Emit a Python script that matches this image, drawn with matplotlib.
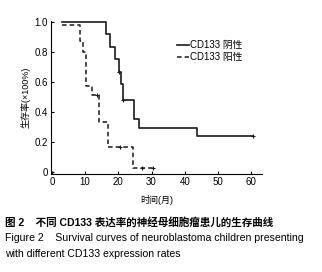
import matplotlib
matplotlib.use("Agg")
import matplotlib.pyplot as plt

plt.rcParams['font.family'] = ['Liberation Sans', 'Noto Sans CJK SC']

# survival steps
neg_time = [3, 16.3, 17.6, 19.1, 20.3, 20.7, 21.3, 24.6, 26.1, 43.8, 60.7]
neg_surv = [1.0, 0.917, 0.833, 0.75, 0.667, 0.583, 0.48, 0.355, 0.295, 0.24, 0.24]
neg_cens_t = [20.3, 21.5, 60.7]
neg_cens_s = [0.667, 0.48, 0.24]

pos_time = [3, 8.5, 9.3, 10.3, 12.0, 14.3, 17.0, 24.3, 30.5]
pos_surv = [0.975, 0.87, 0.80, 0.57, 0.51, 0.335, 0.165, 0.025, 0.025]
pos_cens_t = [13.6, 20.6, 27.0, 30.3]
pos_cens_s = [0.51, 0.165, 0.025, 0.025]

x_ticks = [0, 10, 20, 30, 40, 50, 60]
y_ticks = [0, 0.2, 0.4, 0.6, 0.8, 1.0]
y_ticklabels = ['0', '0.2', '0.4', '0.6', '0.8', '1.0']

fig = plt.figure(figsize=(3.22, 2.72), dpi=100)
ax = fig.add_axes([0.158, 0.36, 0.656, 0.564])

ax.step(neg_time, neg_surv, where='post', color='#1a1a1a', lw=1.2, label='CD133 阴性')
ax.plot(neg_cens_t, neg_cens_s, '+', color='#1a1a1a', ms=3, mew=0.8)
ax.step(pos_time, pos_surv, where='post', color='#1a1a1a', lw=1.1, ls=(0, (3, 2)), label='CD133 阳性')
ax.plot(pos_cens_t, pos_cens_s, '+', color='#1a1a1a', ms=3, mew=0.8)

ax.set_xlim(-0.3, 63.3)
ax.set_ylim(-0.015, 1.007)
ax.set_xticks(x_ticks)
ax.set_yticks(y_ticks)
ax.set_yticklabels(y_ticklabels)
ax.spines['top'].set_visible(False)
ax.spines['right'].set_visible(False)
ax.tick_params(direction='in', length=2.5, labelsize=7, pad=2)

ax.set_xlabel('时间(月)', fontsize=6.5, labelpad=6)
ax.set_ylabel('生存率(×100%)', fontsize=6.5, labelpad=3)

ax.legend(loc='upper right', bbox_to_anchor=(0.95, 0.93), frameon=False, fontsize=7,
          handlelength=1.3, handletextpad=0.1, labelspacing=0.2)

fig.text(0.016, 0.181, '图 2    不同 CD133 表达率的神经母细胞瘤患儿的生存曲线',
         fontsize=7.6, fontweight='bold', va='center')
fig.text(0.016, 0.125, 'Figure 2    Survival curves of neuroblastoma children presenting',
         fontsize=7.6, va='center')
fig.text(0.016, 0.068, 'with different CD133 expression rates',
         fontsize=7.6, va='center')

fig.savefig('out.png', dpi=100)
